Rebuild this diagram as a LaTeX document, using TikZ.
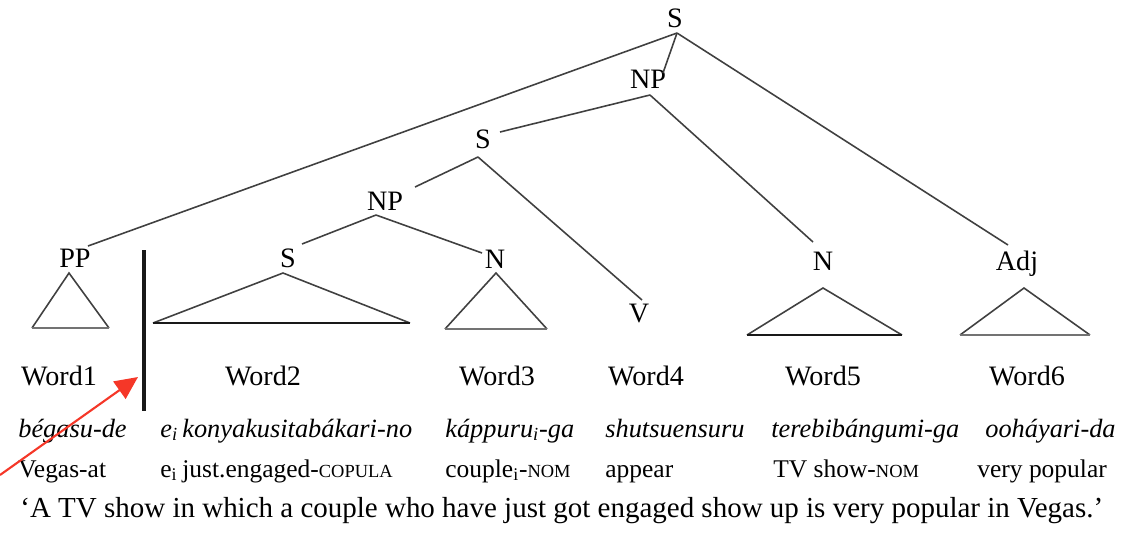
\documentclass[tikz,border=0pt]{standalone}
\usepackage{fontspec}
\setmainfont{Liberation Serif}
\usetikzlibrary{arrows.meta}

% small-capital style glosses
\newcommand{\glossabbr}[1]{{\fontsize{10.5}{12}\selectfont #1}}

\tikzset{
  edge/.style={draw=black!75, line width=0.9pt},
  darkbase/.style={draw=black!90, line width=1.4pt},
  greybase/.style={draw=black!55, line width=1.4pt},
  cat/.style={inner sep=0pt, anchor=base, font=\fontsize{16}{18}\selectfont},
  wordlbl/.style={inner sep=0pt, anchor=base, font=\fontsize{16}{18}\selectfont},
  romaji/.style={inner sep=0pt, anchor=base west, font=\fontsize{15}{17}\selectfont\itshape},
  gloss/.style={inner sep=0pt, anchor=base west, font=\fontsize{14.5}{16}\selectfont},
  transl/.style={inner sep=0pt, anchor=base west, font=\fontsize{16.5}{19}\selectfont},
  pointer/.style={draw={rgb,255:red,245;green,55;blue,40}, line width=1.2pt,
    -{Triangle[length=13pt,width=12pt]}}
}

\begin{document}
\begin{tikzpicture}[x=0.02cm, y=-0.02cm]
\useasboundingbox (0,0) rectangle (1122,532);

% category labels
\node[cat] (sTop) at (675,27) {S};
\node[cat] (npTop) at (648,88) {NP};
\node[cat] (sMid) at (483,148) {S};
\node[cat] (npLow) at (385,210) {NP};
\node[cat] (pp) at (75,267) {PP};
\node[cat] (sRel) at (288,267) {S};
\node[cat] (nCouple) at (495,268) {N};
\node[cat] (vAppear) at (639,322) {V};
\node[cat] (nShow) at (823,270) {N};
\node[cat] (adj) at (1017,270) {Adj};

% branch points and branch ends
\coordinate (sTopA) at (677,33);
\coordinate (npTopA) at (650,95);
\coordinate (sMidA) at (478,157);
\coordinate (npLowA) at (376,215);
\coordinate (ppE) at (88,246);
\coordinate (npTopE) at (663,73);
\coordinate (adjE) at (1008,245);
\coordinate (sMidE) at (500,132);
\coordinate (nShowE) at (813,242);
\coordinate (npLowE) at (415,187);
\coordinate (vE) at (642,300);
\coordinate (sRelE) at (302,244);
\coordinate (nCoupleE) at (482,253);

\draw[edge] (sTopA) -- (ppE);
\draw[edge] (sTopA) -- (npTopE);
\draw[edge] (sTopA) -- (adjE);
\draw[edge] (npTopA) -- (sMidE);
\draw[edge] (npTopA) -- (nShowE);
\draw[edge] (sMidA) -- (npLowE);
\draw[edge] (sMidA) -- (vE);
\draw[edge] (npLowA) -- (sRelE);
\draw[edge] (npLowA) -- (nCoupleE);

% collapsed subtrees
\coordinate (ppT) at (69,273);  \coordinate (ppL) at (32,328);  \coordinate (ppR) at (109,328);
\coordinate (sRelT) at (283,273); \coordinate (sRelL) at (153,323); \coordinate (sRelR) at (410,323);
\coordinate (nCoupleT) at (496,273); \coordinate (nCoupleL) at (445,329); \coordinate (nCoupleR) at (547,329);
\coordinate (nShowT) at (823,288); \coordinate (nShowL) at (747,335); \coordinate (nShowR) at (902,335);
\coordinate (adjT) at (1024,288); \coordinate (adjL) at (960,335); \coordinate (adjR) at (1090,335);

\draw[edge] (ppL) -- (ppT) -- (ppR);          \draw[greybase] (ppL) -- (ppR);
\draw[edge] (sRelL) -- (sRelT) -- (sRelR);    \draw[darkbase] (sRelL) -- (sRelR);
\draw[edge] (nCoupleL) -- (nCoupleT) -- (nCoupleR); \draw[greybase] (nCoupleL) -- (nCoupleR);
\draw[edge] (nShowL) -- (nShowT) -- (nShowR); \draw[darkbase] (nShowL) -- (nShowR);
\draw[edge] (adjL) -- (adjT) -- (adjR);       \draw[greybase] (adjL) -- (adjR);

% boundary of the relative clause
\coordinate (barTop) at (144,250);
\coordinate (barBot) at (144,411);
\draw[black!90, line width=1.9pt] (barTop) -- (barBot);

% word slots
\node[wordlbl] (w1) at (59,385) {Word1};
\node[wordlbl] (w2) at (263,385) {Word2};
\node[wordlbl] (w3) at (497,385) {Word3};
\node[wordlbl] (w4) at (646,385) {Word4};
\node[wordlbl] (w5) at (823,385) {Word5};
\node[wordlbl] (w6) at (1027,385) {Word6};

% romanised Japanese
\node[romaji] (r1) at (18,437) {bégasu-de};
\node[romaji] (r2a) at (160,437) {e\textsubscript{i}};
\node[romaji] (r2) at (182,437) {konyakusitabákari-no};
\node[romaji] (r3) at (445,437) {káppuru\textsubscript{i}-ga};
\node[romaji] (r4) at (605,437) {shutsuensuru};
\node[romaji] (r5) at (771,437) {terebibángumi-ga};
\node[romaji] (r6) at (985,437) {ooháyari-da};

% glosses
\node[gloss] (g1) at (18,477) {Vegas-at};
\node[gloss] (g2a) at (160,477) {e\textsubscript{i}};
\node[gloss] (g2) at (182,477) {just.engaged-\glossabbr{COPULA}};
\node[gloss] (g3) at (445,477) {couple\textsubscript{i}-\glossabbr{NOM}};
\node[gloss] (g4) at (605,477) {appear};
\node[gloss] (g5) at (773,477) {TV show-\glossabbr{NOM}};
\node[gloss] (g6) at (977,477) {very popular};

% free translation
\node[transl] (tr) at (20,517) {`A TV show in which a couple who have just got engaged show up is very popular in Vegas.'};

% pointer to the boundary
\coordinate (ptrStart) at (0,475);
\coordinate (ptrTip) at (138,377);
\draw[pointer] (ptrStart) -- (ptrTip);
\end{tikzpicture}
\end{document}
